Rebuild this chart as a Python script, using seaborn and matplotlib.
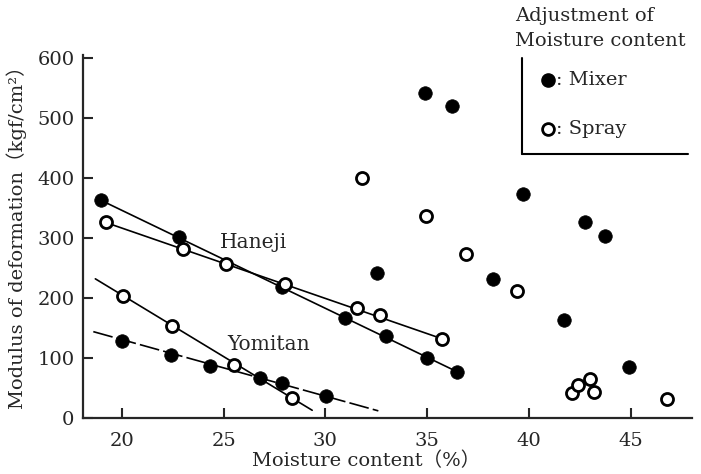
import matplotlib
matplotlib.use("Agg")
import matplotlib.pyplot as plt
from matplotlib.lines import Line2D
import seaborn as sns
import pandas as pd

# ---------------- data ----------------
haneji_mixer_x = [18.97, 22.83, 27.87, 30.98, 33.0, 34.97, 36.48]
haneji_mixer_y = [363, 302, 219, 167, 136, 100, 77]
yomitan_mixer_x = [20.0, 22.41, 24.34, 26.8, 27.87, 30.03]
yomitan_mixer_y = [129, 105, 87, 66, 58, 37]
other_mixer_x = [32.51, 34.88, 36.2, 38.23, 39.72, 41.74, 42.74, 43.72, 44.9]
other_mixer_y = [242, 541, 520, 232, 373, 164, 327, 303, 85]

haneji_spray_x = [19.2, 23.03, 25.1, 28.03, 31.56, 32.67, 35.74]
haneji_spray_y = [326, 281, 256, 224, 183, 171, 132]
yomitan_spray_x = [20.05, 22.46, 25.49, 28.36]
yomitan_spray_y = [204, 153, 89, 33]
other_spray_x = [31.8, 34.92, 36.92, 39.43, 42.13, 42.41, 43.0, 43.17, 46.8]
other_spray_y = [399.5, 337, 274, 212, 41, 55, 64.5, 43, 32]

# trend lines (end points)
haneji_mixer_line_x = [18.97, 36.48]
haneji_mixer_line_y = [363, 77]
haneji_spray_line_x = [19.2, 35.74]
haneji_spray_line_y = [326, 132]
yomitan_mixer_line_x = [18.6, 32.6]
yomitan_mixer_line_y = [144, 12]
yomitan_spray_line_x = [18.7, 29.35]
yomitan_spray_line_y = [232, 13]

x_ticks = [20, 25, 30, 35, 40, 45]
y_ticks = [0, 100, 200, 300, 400, 500, 600]

# ---------------- style ----------------
sns.set_style("ticks")
plt.rcParams["font.family"] = ["DejaVu Serif", "Noto Sans CJK JP"]

fig = plt.figure(figsize=(7.01, 4.74), dpi=100)
ax = fig.add_axes([0.118, 0.118, 0.869, 0.766])

lw = 1.2
lines = [
    (haneji_mixer_line_x, haneji_mixer_line_y),
    (haneji_spray_line_x, haneji_spray_line_y),
    (yomitan_spray_line_x, yomitan_spray_line_y),
]
for lx, ly in lines:
    sns.lineplot(x=lx, y=ly, ax=ax, color="black", lw=lw, estimator=None,
                 sort=False, zorder=2)
l = sns.lineplot(x=yomitan_mixer_line_x, y=yomitan_mixer_line_y, ax=ax,
                 color="black", lw=lw, estimator=None, sort=False, zorder=2)
l.lines[-1].set_dashes((12, 2.5))

mixer = pd.DataFrame({
    "x": haneji_mixer_x + yomitan_mixer_x + other_mixer_x,
    "y": haneji_mixer_y + yomitan_mixer_y + other_mixer_y,
})
spray = pd.DataFrame({
    "x": haneji_spray_x + yomitan_spray_x + other_spray_x,
    "y": haneji_spray_y + yomitan_spray_y + other_spray_y,
})
sns.scatterplot(data=mixer, x="x", y="y", ax=ax, color="black", s=95,
                marker="o", edgecolor="black", linewidth=0.5, zorder=4)
sns.scatterplot(data=spray, x="x", y="y", ax=ax, facecolor="white", s=75,
                marker="o", edgecolor="black", linewidth=2.0, zorder=4)

ax.set_xlim(18.08, 48.0)
ax.set_ylim(0, 605)
ax.set_xticks(x_ticks)
ax.set_yticks(y_ticks)
ax.tick_params(direction="in", length=7, width=1.5, labelsize=14, pad=6)
ax.tick_params(axis="x", pad=10)
for s in ["top", "right"]:
    ax.spines[s].set_visible(False)
for s in ["left", "bottom"]:
    ax.spines[s].set_linewidth(1.6)

ax.set_xlabel("Moisture content（%）", fontsize=14)
ax.set_ylabel("Modulus of deformation（kgf/cm²）", fontsize=14)
ax.xaxis.set_label_coords(0.466, -0.092)
ax.yaxis.set_label_coords(-0.092, 0.51)

ax.text(24.83, 293, "Haneji", fontsize=14.5, va="center", ha="left")
ax.text(25.16, 122, "Yomitan", fontsize=14.5, va="center", ha="left")

# ---------------- legend (drawn as annotation) ----------------
W, H = 701, 474
def fx(px):
    return px / W
def fy(py):
    return 1 - py / H

fig.text(fx(515), fy(16), "Adjustment of", fontsize=14, va="center", ha="left")
fig.text(fx(515), fy(41), "Moisture content", fontsize=14, va="center", ha="left")
fig.add_artist(Line2D([fx(522), fx(522)], [fy(58), fy(154)], color="black", lw=1.5))
fig.add_artist(Line2D([fx(522), fx(688)], [fy(154), fy(154)], color="black", lw=1.5))
fig.add_artist(Line2D([fx(548)], [fy(80)], marker="o", markersize=9.5,
                      color="black", markeredgecolor="black", lw=0))
fig.add_artist(Line2D([fx(548)], [fy(129)], marker="o", markersize=8.5,
                      markerfacecolor="white", markeredgecolor="black",
                      markeredgewidth=2.0, lw=0))
fig.text(fx(556), fy(80), ": Mixer", fontsize=14, va="center", ha="left")
fig.text(fx(556), fy(129), ": Spray", fontsize=14, va="center", ha="left")

fig.savefig("out.png", dpi=100)
